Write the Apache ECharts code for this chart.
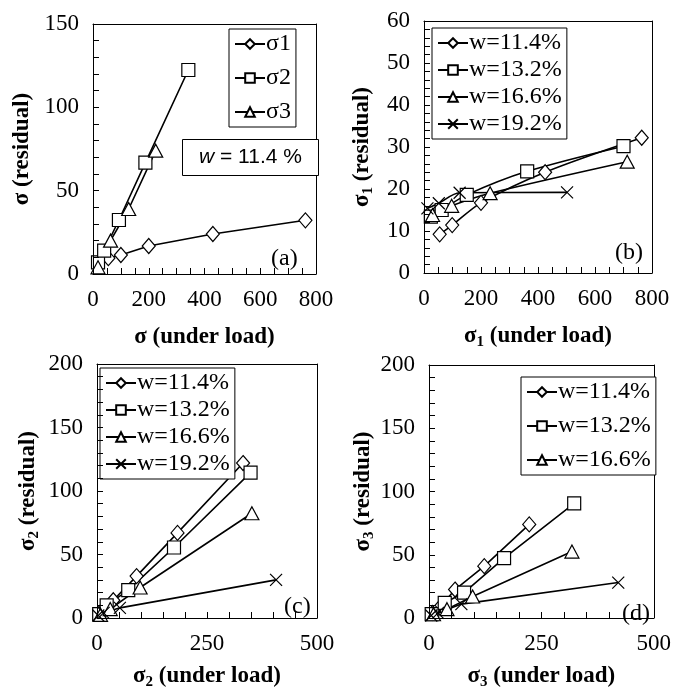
<!DOCTYPE html>
<html>
<head>
<meta charset="utf-8">
<script src="https://cdn.jsdelivr.net/npm/echarts@6/dist/echarts.min.js"></script>
<style>
html, body { margin: 0; padding: 0; background: #fff; }
#main { width: 674px; height: 691px; }
</style>
</head>
<body>
<div id="main"></div>
<script>
// panel (a): w = 11.4 %, the three stresses
var a_s1 = [[55, 9.5], [100, 11.4], [200, 16.8], [430, 24], [762, 32.2]];
var a_s2 = [[18, 7], [40, 14], [93, 32.4], [188, 66.8], [342, 122.4]];
var a_s3 = [[18, 4], [63, 20], [128, 39], [225, 74]];

// panel (b): sigma1
var b_w114 = [[55, 9.2], [99, 11.4], [200, 16.7], [425, 24], [764, 32.2]];
var b_w132 = [[24, 13.4], [62, 15], [150, 18.6], [362, 24.2], [700, 30.2]];
var b_w166 = [[30, 13.8], [97, 16], [232, 19], [713, 26.5]];
var b_w192 = [[12, 15.4], [52, 16.6], [125, 19.1], [502, 19.2]];

// panel (c): sigma2
var c_w114 = [[8, 4.5], [37, 14], [90, 33], [183, 67], [332, 122]];
var c_w132 = [[5, 3], [22, 10], [71, 22], [175, 55.5], [349, 114.5]];
var c_w166 = [[8, 2.5], [30, 7], [98, 24], [352, 82.5]];
var c_w192 = [[3, 2], [15, 4], [52, 8], [407, 30]];

// panel (d): sigma3
var d_w114 = [[8, 4], [28, 10], [58, 22.5], [123, 41], [223, 74]];
var d_w132 = [[6, 3], [35, 12], [78, 20], [167, 47.3], [323, 90.6]];
var d_w166 = [[10, 3], [40, 7], [97, 17], [318, 52.5]];
var d_w192 = [[5, 2], [20, 4], [72, 11], [421, 28]];

var names_a = ['σ1', 'σ2', 'σ3'];
var names_w = ['w=11.4%', 'w=13.2%', 'w=16.6%', 'w=19.2%'];

// axis ranges per panel: [max, major step, minor step]
var x_rng = [[800, 200, 50], [800, 200, 50], [500, 250, 50], [500, 250, 50]];
var y_rng = [[150, 50, 10], [60, 10, 2], [200, 50, 10], [200, 50, 10]];

var SERIF = '"Liberation Serif", "Times New Roman", serif';
var SYM = {
    dia: 'diamond',
    sq: 'rect',
    tri: 'triangle',
    x: 'path://M0,0L10,10M10,0L0,10'
};
var SIZE = { dia: [13, 15], sq: 13, tri: [14, 13], x: 12 };

function line(name, data, sym, gi, smooth) {
    return {
        type: 'line',
        name: name,
        data: data,
        xAxisIndex: gi,
        yAxisIndex: gi,
        symbol: SYM[sym],
        symbolSize: SIZE[sym],
        smooth: smooth || false,
        lineStyle: { color: '#000', width: 1.6 },
        itemStyle: { color: '#fff', borderColor: '#000', borderWidth: 1.2 },
        emphasis: { disabled: true },
        animation: false,
        z: 3
    };
}

function richSub() {
    return {
        b: { fontFamily: SERIF, fontSize: 23, fontWeight: 'bold', color: '#000', lineHeight: 28 },
        s: { fontFamily: SERIF, fontSize: 15, fontWeight: 'bold', color: '#000', lineHeight: 14, verticalAlign: 'bottom' }
    };
}

// ticks every minor step (inside), labels only on the major steps
function mainAx(gi, rng, pos, title, gap) {
    return {
        type: 'value', gridIndex: gi, min: 0, max: rng[0], interval: rng[2],
        position: pos, z: 5,
        axisLine: { show: true, onZero: false, lineStyle: { color: '#000', width: 1 } },
        axisTick: { show: true, inside: true, length: 6, lineStyle: { color: '#000', width: 1 } },
        splitLine: { show: false },
        axisLabel: {
            show: true, color: '#000', fontFamily: SERIF, fontSize: 23, margin: 14,
            formatter: function (v) { return v % rng[1] === 0 ? String(v) : ''; }
        },
        name: title, nameLocation: 'middle', nameGap: gap,
        nameTextStyle: {
            color: '#000', fontFamily: SERIF, fontSize: 23, fontWeight: 'bold',
            rich: richSub()
        }
    };
}

// top / right edge of each plot box
function edgeAx(gi, rng, pos) {
    return {
        type: 'value', gridIndex: gi, min: 0, max: rng[0], interval: rng[1],
        position: pos,
        axisLine: { show: true, onZero: false, lineStyle: { color: '#000', width: 1 } },
        axisTick: { show: false },
        axisLabel: { show: false },
        splitLine: { show: false }
    };
}

function legend(left, top, data, gap) {
    return {
        left: left, top: top, orient: 'vertical',
        data: data,
        itemWidth: 30, itemHeight: 12, itemGap: gap,
        padding: [3, 5, 3, 5],
        borderColor: '#000', borderWidth: 1, backgroundColor: '#fff',
        selectedMode: false,
        textStyle: { color: '#000', fontFamily: SERIF, fontSize: 24, lineHeight: 22, padding: [0, 0, 0, -4] }
    };
}

function tag(text, left, top) {
    return {
        text: text, left: left, top: top,
        textStyle: { color: '#000', fontFamily: SERIF, fontSize: 24, fontWeight: 'normal' }
    };
}

var chart = echarts.init(document.getElementById('main'));

var option = {
    backgroundColor: '#fff',
    animation: false,
    grid: [
        { left: 93, top: 24, width: 223, height: 250 },
        { left: 424, top: 21, width: 228, height: 252 },
        { left: 97, top: 364, width: 220, height: 255 },
        { left: 429, top: 365, width: 225, height: 258 }
    ],
    xAxis: [
        mainAx(0, x_rng[0], 'bottom', '{b|σ (under load)}', 49),
        mainAx(1, x_rng[1], 'bottom', '{b|σ}{s|1}{b| (under load)}', 49),
        mainAx(2, x_rng[2], 'bottom', '{b|σ}{s|2}{b| (under load)}', 44),
        mainAx(3, x_rng[3], 'bottom', '{b|σ}{s|3}{b| (under load)}', 44),
        edgeAx(0, x_rng[0], 'top'),
        edgeAx(1, x_rng[1], 'top'),
        edgeAx(2, x_rng[2], 'top'),
        edgeAx(3, x_rng[3], 'top')
    ],
    yAxis: [
        mainAx(0, y_rng[0], 'left', '{b|σ (residual)}', 57),
        mainAx(1, y_rng[1], 'left', '{b|σ}{s|1}{b| (residual)}', 48),
        mainAx(2, y_rng[2], 'left', '{b|σ}{s|2}{b| (residual)}', 55),
        mainAx(3, y_rng[3], 'left', '{b|σ}{s|3}{b| (residual)}', 52),
        edgeAx(0, y_rng[0], 'right'),
        edgeAx(1, y_rng[1], 'right'),
        edgeAx(2, y_rng[2], 'right'),
        edgeAx(3, y_rng[3], 'right')
    ],
    legend: [
        legend(229, 29, names_a, 10),
        legend(432, 28, names_w, 3),
        legend(100, 368, names_w, 3),
        legend(521, 377, names_w.slice(0, 3), 10)
    ],
    title: [
        {
            text: '{i|w} = 11.4 %', left: 182, top: 139,
            padding: [8, 17, 8, 17],
            borderColor: '#000', borderWidth: 1, backgroundColor: '#fff',
            textStyle: {
                color: '#000', fontFamily: '"Liberation Sans", Arial, sans-serif', fontSize: 21, fontWeight: 'normal',
                rich: { i: { fontStyle: 'italic', fontFamily: '"Liberation Sans", Arial, sans-serif', fontSize: 21, color: '#000' } }
            }
        },
        tag('(a)', 266, 242),
        tag('(b)', 610, 236),
        tag('(c)', 279, 590),
        tag('(d)', 617, 597)
    ],
    series: [
        line('σ1', a_s1, 'dia', 0),
        line('σ2', a_s2, 'sq', 0),
        line('σ3', a_s3, 'tri', 0),

        line('w=11.4%', b_w114, 'dia', 1, 0.3),
        line('w=13.2%', b_w132, 'sq', 1, 0.3),
        line('w=16.6%', b_w166, 'tri', 1, 0.3),
        line('w=19.2%', b_w192, 'x', 1, 0.3),

        line('w=11.4%', c_w114, 'dia', 2),
        line('w=13.2%', c_w132, 'sq', 2),
        line('w=16.6%', c_w166, 'tri', 2),
        line('w=19.2%', c_w192, 'x', 2),

        line('w=11.4%', d_w114, 'dia', 3),
        line('w=13.2%', d_w132, 'sq', 3),
        line('w=16.6%', d_w166, 'tri', 3),
        line('w=19.2%', d_w192, 'x', 3)
    ]
};

chart.setOption(option);
</script>
</body>
</html>
